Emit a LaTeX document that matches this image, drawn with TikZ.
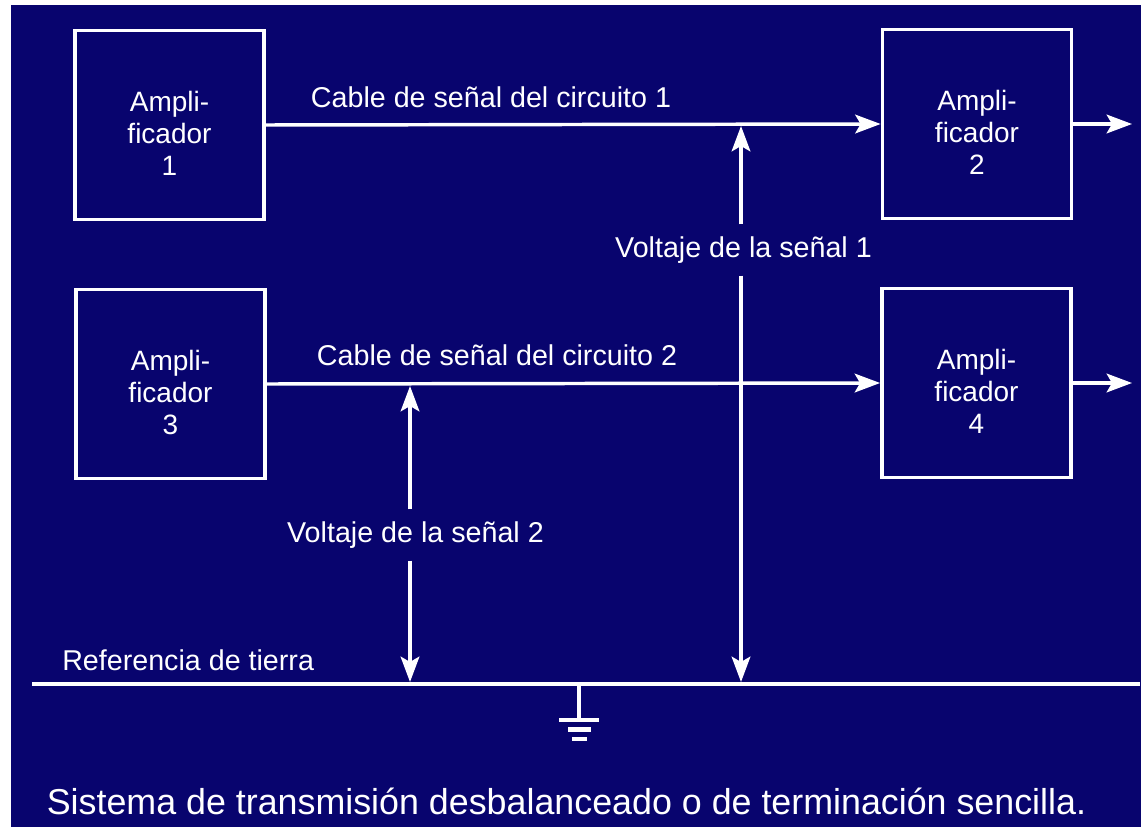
\documentclass[tikz,border=0pt]{standalone}
\usepackage{fontspec}
\setmainfont{Liberation Sans}
\usetikzlibrary{arrows.meta}
\definecolor{fondo}{RGB}{8,4,110}

\begin{document}
\begin{tikzpicture}[x=0.75pt,y=0.75pt,yscale=-1,xscale=1,
  linea/.style={draw=white,line width=2.6pt},
  flecha/.style={linea,-{Stealth[length=19pt,width=14pt,inset=4pt]}},
  ampbox/.style={linea,minimum width=142pt,minimum height=142pt,inner sep=0pt},
  amptexto/.style={text=white,align=center,font=\fontsize{21}{24}\selectfont,yshift=-6pt},
  etiqueta/.style={text=white,font=\fontsize{21.5}{24}\selectfont,inner sep=9pt}]
\useasboundingbox (0,0) rectangle (1141,827);
\fill[white] (0,0) rectangle (1141,827);
\fill[fondo] (11,5) rectangle (1141,827);

% Amplificadores
\node[ampbox,label={[amptexto]center:Ampli-\\ficador\\1}] (amp1) at (169.5,125) {};
\node[ampbox,label={[amptexto]center:Ampli-\\ficador\\2}] (amp2) at (977,124) {};
\node[ampbox,label={[amptexto]center:Ampli-\\ficador\\3}] (amp3) at (170.5,384) {};
\node[ampbox,label={[amptexto]center:Ampli-\\ficador\\4}] (amp4) at (976.5,383) {};

% Salidas
\coordinate (s2) at (1132,124);
\coordinate (s4) at (1132,383);
\draw[flecha] (amp2.east) -- (s2);
\draw[flecha] (amp4.east) -- (s4);

% Cables de senal
\draw[flecha] (amp1.east) -- (amp2.west);
\draw[flecha] (amp3.east) -- (amp4.west);
\node[etiqueta] (cab1) at (491,97) {Cable de señal del circuito 1};
\node[etiqueta] (cab2) at (497,355) {Cable de señal del circuito 2};

% Referencia de tierra
\coordinate (gi) at (32,684);
\coordinate (gd) at (1140,684);
\draw[linea] (gi) -- (gd);
\node[etiqueta,anchor=west,inner sep=0pt] (ref) at (62,660) {Referencia de tierra};

% Voltajes
\coordinate (t1) at (741,126);
\coordinate (b1) at (741,682);
\coordinate (t2) at (410,386);
\coordinate (b2) at (410,682);
\node[etiqueta] (v1) at (743.5,250) {Voltaje de la señal 1};
\node[etiqueta] (v2) at (415.5,535) {Voltaje de la señal 2};
\draw[flecha] (v1.north -| t1) -- (t1);
\draw[flecha] (v1.south -| b1) -- (b1);
\draw[flecha] (v2.north -| t2) -- (t2);
\draw[flecha] (v2.south -| b2) -- (b2);

% Simbolo de tierra
\coordinate (tierra) at (579,684);
\draw[linea] (tierra) -- ++(0,36);
\draw[linea,line width=3.2pt] (559,720) -- (599,720);
\draw[linea,line width=3.2pt] (568,729.5) -- (591,729.5);
\draw[linea,line width=3.2pt] (572,739) -- (587,739);

% Titulo
\node[text=white,font=\fontsize{27}{30}\selectfont,xscale=0.995] (titulo) at (566.5,801)
  {Sistema de transmisión desbalanceado o de terminación sencilla.};
\end{tikzpicture}
\end{document}
